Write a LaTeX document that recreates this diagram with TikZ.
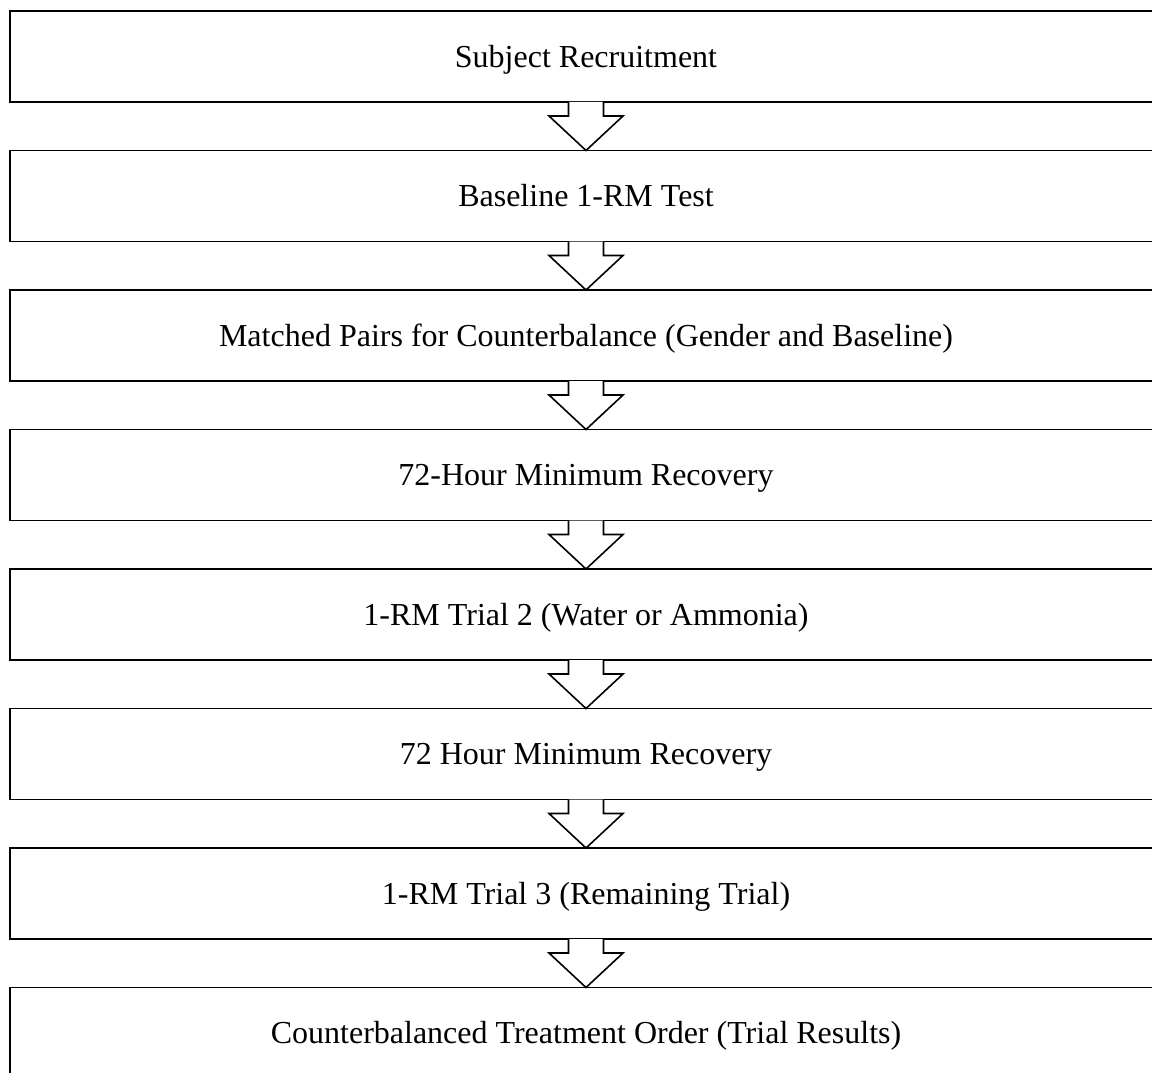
\documentclass[tikz,border=0pt]{standalone}
\usepackage{fontspec}
\setmainfont{Liberation Serif}
\usetikzlibrary{positioning}
\begin{document}
\begin{tikzpicture}[x=1pt, y=1pt, node distance=48.5pt,
  stepbox/.style = {shape=rectangle, draw, line width=1.8pt,
    minimum width=1152pt, minimum height=91pt, outer sep=0pt,
    inner sep=0pt, align=center, text height=21.2pt, text depth=0pt,
    font=\fontsize{32}{38}\selectfont},
  downarrow/.style = {draw, fill=white, line width=1.6pt, line join=miter}]
  \clip (0,0) rectangle (1152,-1073);
  \node[stepbox] (recruit) at (586,-56.5) {Subject Recruitment};
  \node[stepbox, below=of recruit] (baseline) {Baseline 1-RM Test};
  \node[stepbox, below=of baseline] (pairs) {Matched Pairs for Counterbalance (Gender and Baseline)};
  \node[stepbox, below=of pairs] (recoverA) {72-Hour Minimum Recovery};
  \node[stepbox, below=of recoverA] (trialB) {1-RM Trial 2 (Water or Ammonia)};
  \node[stepbox, below=of trialB] (recoverB) {72 Hour Minimum Recovery};
  \node[stepbox, below=of recoverB] (trialC) {1-RM Trial 3 (Remaining Trial)};
  \node[stepbox, below=of trialC] (order) {Counterbalanced Treatment Order (Trial Results)};
  % block arrows between steps
  \foreach \a/\b in {recruit/baseline, baseline/pairs, pairs/recoverA,
      recoverA/trialB, trialB/recoverB, recoverB/trialC, trialC/order}
    \path[downarrow] ([xshift=-17.5pt]\a.south) -- ([xshift=-17.5pt, yshift=-14pt]\a.south)
      -- ([xshift=-37pt, yshift=-14pt]\a.south) -- (\b.north)
      -- ([xshift=37pt, yshift=-14pt]\a.south) -- ([xshift=17.5pt, yshift=-14pt]\a.south)
      -- ([xshift=17.5pt]\a.south);
\end{tikzpicture}
\end{document}
